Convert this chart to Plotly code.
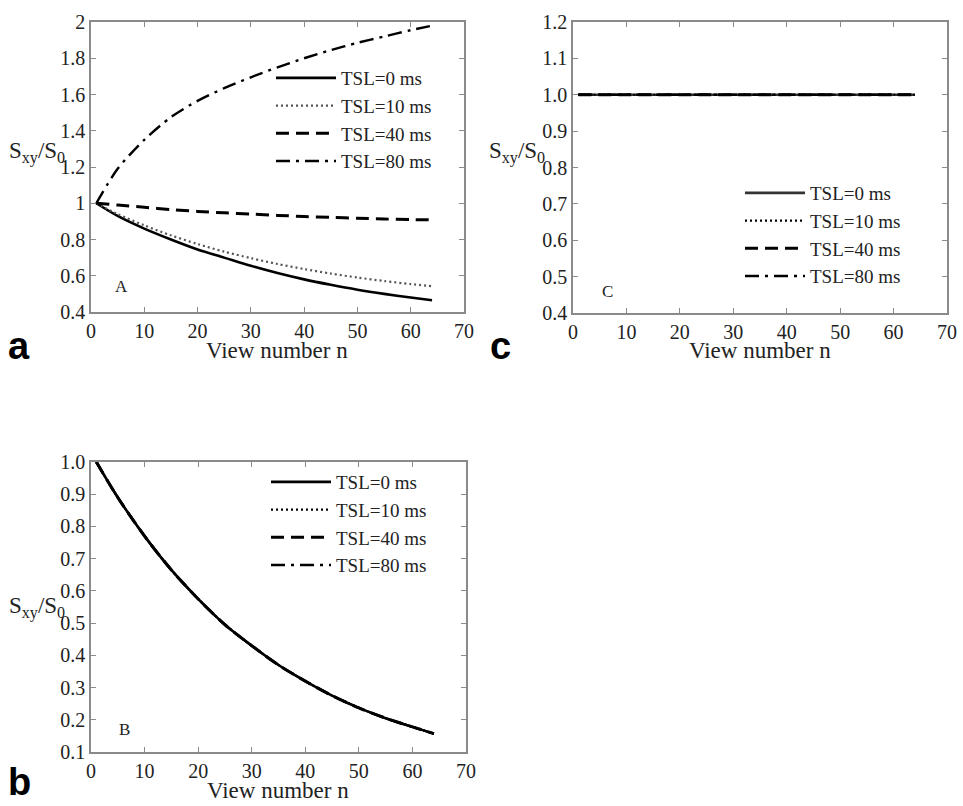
import plotly.graph_objects as go

# ---------------- data ----------------
n = [1, 5, 10, 15, 20, 25, 30, 35, 40, 45, 50, 55, 60, 64]

# Panel A
a_tsl0 = [1.0, 0.93, 0.86, 0.80, 0.745, 0.70, 0.655, 0.615, 0.58, 0.55, 0.523, 0.50, 0.48, 0.465]
a_tsl10 = [1.0, 0.94, 0.878, 0.823, 0.775, 0.733, 0.697, 0.665, 0.637, 0.612, 0.59, 0.571, 0.554, 0.542]
a_tsl40 = [1.0, 0.99, 0.978, 0.965, 0.955, 0.947, 0.94, 0.933, 0.927, 0.922, 0.917, 0.913, 0.91, 0.908]
a_tsl80 = [1.0, 1.19, 1.35, 1.475, 1.565, 1.635, 1.695, 1.75, 1.80, 1.845, 1.885, 1.92, 1.955, 1.98]

# Panel B (all TSL curves coincide)
b_curve = [1.0, 0.89, 0.77, 0.665, 0.575, 0.495, 0.43, 0.37, 0.32, 0.275, 0.237, 0.205, 0.178, 0.157]
b_tsl0 = b_curve
b_tsl10 = b_curve
b_tsl40 = b_curve
b_tsl80 = b_curve

# Panel C (all TSL curves flat at 1)
c_tsl0 = [1.0] * len(n)
c_tsl10 = [1.0] * len(n)
c_tsl40 = [1.0] * len(n)
c_tsl80 = [1.0] * len(n)

names = ["TSL=0 ms", "TSL=10 ms", "TSL=40 ms", "TSL=80 ms"]

a_yticks = [0.4, 0.6, 0.8, 1.0, 1.2, 1.4, 1.6, 1.8, 2.0]
a_yticktext = ["0.4", "0.6", "0.8", "1", "1.2", "1.4", "1.6", "1.8", "2"]
b_yticks = [0.1, 0.2, 0.3, 0.4, 0.5, 0.6, 0.7, 0.8, 0.9, 1.0]
c_yticks = [0.4, 0.5, 0.6, 0.7, 0.8, 0.9, 1.0, 1.1, 1.2]
xticks = [0, 10, 20, 30, 40, 50, 60, 70]

# ---------------- figure ----------------
W, H = 963, 806
SERIF = "Liberation Serif, Times New Roman, serif"

styles = [
    dict(color="black", width=2.6, dash="solid"),
    dict(color="#555555", width=2.2, dash="2px,3px"),
    dict(color="black", width=3, dash="13px,7px"),
    dict(color="black", width=2.4, dash="14px,6px,3px,6px"),
]

fig = go.Figure()

panels = [
    ("x", "y", "legend", [a_tsl0, a_tsl10, a_tsl40, a_tsl80]),
    ("x2", "y2", "legend2", [c_tsl0, c_tsl10, c_tsl40, c_tsl80]),
    ("x3", "y3", "legend3", [b_tsl0, b_tsl10, b_tsl40, b_tsl80]),
]

for xa, ya, lg, series in panels:
    for i in range(4):
        st = dict(styles[i])
        if lg != "legend" and i == 1:
            st["color"] = "black"
        if lg == "legend2" and i == 0:
            st["color"] = "#333333"
        fig.add_trace(go.Scatter(
            x=n, y=series[i], mode="lines", name=names[i],
            line=dict(shape="spline", smoothing=0.8, **st),
            xaxis=xa, yaxis=ya, legend=lg, showlegend=True,
        ))

def px_x(v):
    return v / W

def px_y(v):
    return 1 - v / H

axis_common = dict(
    showline=True, linecolor="#8a8a8a", linewidth=1.5, mirror="ticks",
    ticks="inside", ticklen=5, tickcolor="#8a8a8a", showgrid=False, zeroline=False,
    tickfont=dict(family=SERIF, size=20, color="#222222"),
)

fig.update_layout(
    width=W, height=H,
    margin=dict(l=0, r=0, t=0, b=0, autoexpand=False),
    paper_bgcolor="white", plot_bgcolor="white",
    # Panel A
    xaxis=dict(domain=[px_x(91), px_x(464)], range=[0, 70], tickvals=xticks,
               anchor="y", **axis_common),
    yaxis=dict(domain=[px_y(312), px_y(22)], range=[0.4, 2.0], tickvals=a_yticks,
               ticktext=a_yticktext, anchor="x", **axis_common),
    # Panel C
    xaxis2=dict(domain=[px_x(573), px_x(947)], range=[0, 70], tickvals=xticks,
                anchor="y2", **axis_common),
    yaxis2=dict(domain=[px_y(313), px_y(22)], range=[0.4, 1.2], tickvals=c_yticks,
                tickformat=".1f", anchor="x2", **axis_common),
    # Panel B
    xaxis3=dict(domain=[px_x(91), px_x(466)], range=[0, 70], tickvals=xticks,
                anchor="y3", **axis_common),
    yaxis3=dict(domain=[px_y(752), px_y(462)], range=[0.1, 1.0], tickvals=b_yticks,
                tickformat=".1f", anchor="x3", **axis_common),
)

leg_common = dict(
    bgcolor="rgba(0,0,0,0)", borderwidth=0, xanchor="left", yanchor="top",
    font=dict(family=SERIF, size=19, color="#222222"), itemwidth=60,
    tracegroupgap=0,
)
fig.update_layout(
    legend=dict(x=px_x(271), y=px_y(59), **leg_common),
    legend2=dict(x=px_x(740), y=px_y(174), **leg_common),
    legend3=dict(x=px_x(266), y=px_y(463), **leg_common),
)

annotations = []
title_font = dict(family=SERIF, size=23, color="#222222")

# x axis titles
for xc, yc in [(277, 350), (760, 350), (278, 790)]:
    annotations.append(dict(text="View number n", x=px_x(xc), y=px_y(yc), xref="paper", yref="paper",
                            showarrow=False, font=title_font, xanchor="center", yanchor="middle"))
# y axis titles
for xc, yc in [(37, 153), (517, 153), (37, 607)]:
    annotations.append(dict(text="S<sub>xy</sub>/S<sub>0</sub>", x=px_x(xc), y=px_y(yc), xref="paper",
                            yref="paper", showarrow=False, font=title_font, xanchor="center",
                            yanchor="middle"))
# inner panel labels
for lab, xa, ya, xv, yv in [("A", "x", "y", 5.8, 0.54), ("C", "x2", "y2", 6.5, 0.46), ("B", "x3", "y3", 6.3, 0.17)]:
    annotations.append(dict(text=lab, x=xv, y=yv, xref=xa, yref=ya, showarrow=False,
                            font=dict(family=SERIF, size=17, color="#222222")))
# panel letters
letter_font = dict(family="Liberation Sans, Arial, sans-serif", size=38, color="black")
for lab, xc, yc in [("<b>a</b>", 19, 346), ("<b>c</b>", 500, 346), ("<b>b</b>", 19, 782)]:
    annotations.append(dict(text=lab, x=px_x(xc), y=px_y(yc), xref="paper", yref="paper",
                            showarrow=False, font=letter_font, xanchor="center", yanchor="middle"))

fig.update_layout(annotations=annotations)

fig.write_html("out.html", config={"displayModeBar": False},
               post_script="document.body.style.margin='0px';document.body.style.overflow='hidden';")
